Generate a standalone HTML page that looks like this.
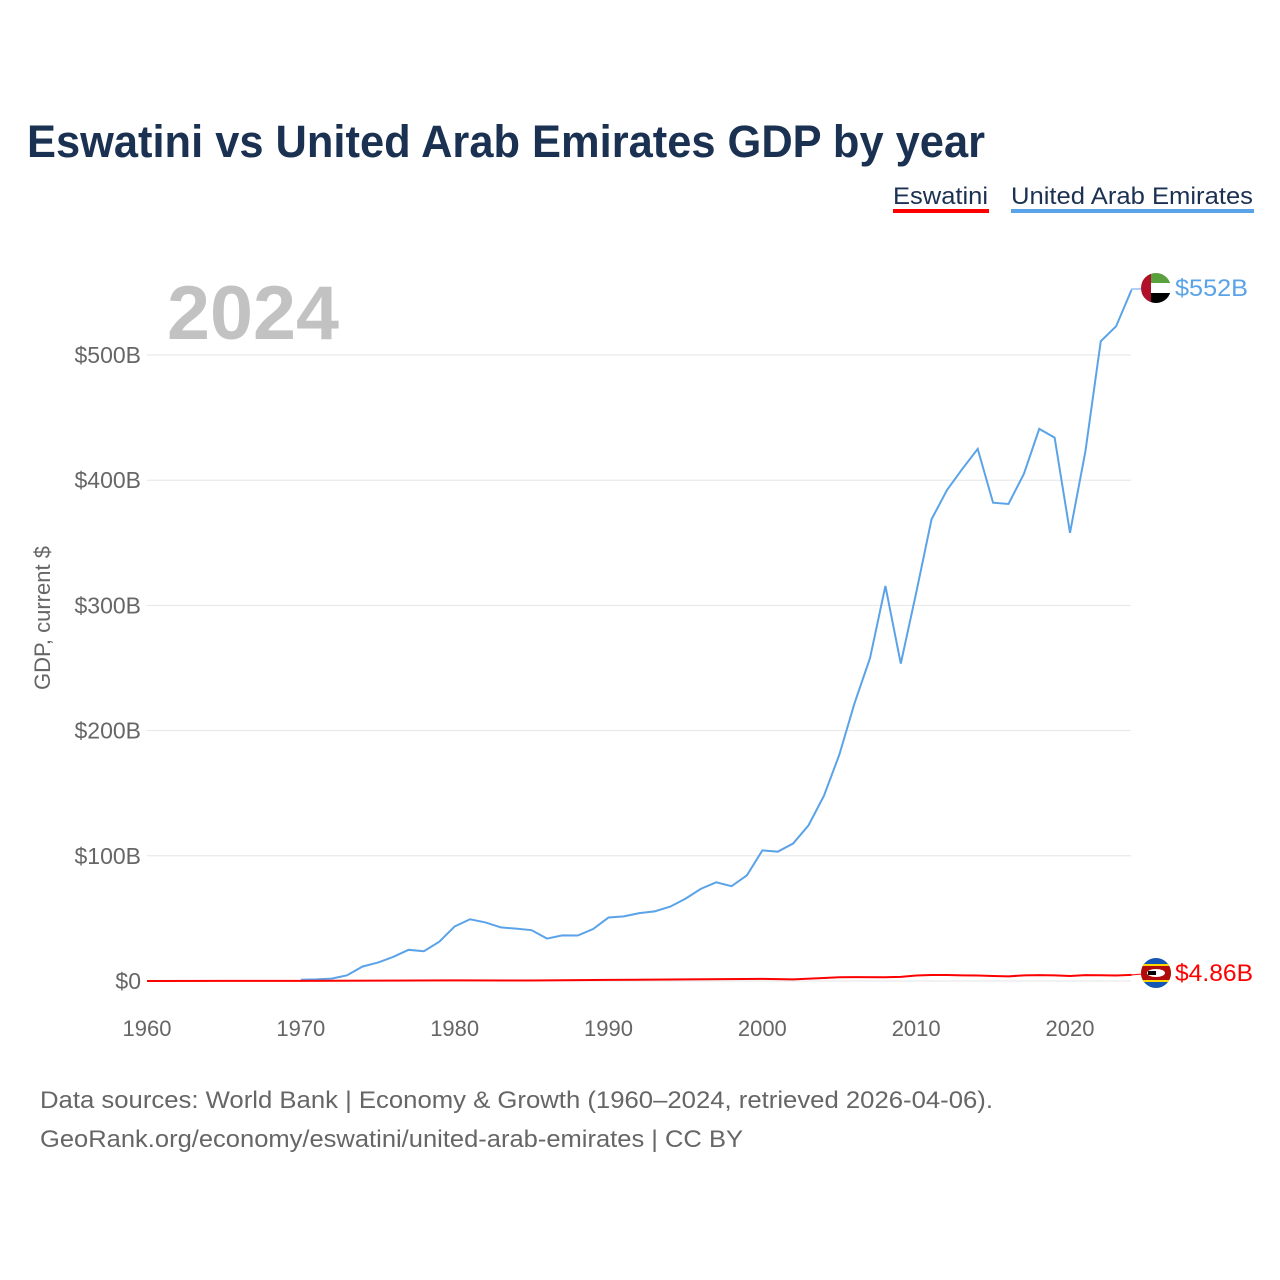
<!DOCTYPE html>
<html><head><meta charset="utf-8"><style>
body{margin:0;background:#fff;font-family:"Liberation Sans",sans-serif}
#w{position:relative;width:1280px;height:1280px;overflow:hidden}
</style></head><body><div id="w">
<svg id="s" width="1280" height="1280" style="position:absolute;left:0;top:0">
<text x="27" y="157" font-size="45" font-weight="bold" fill="#1b3152" textLength="958" lengthAdjust="spacingAndGlyphs">Eswatini vs United Arab Emirates GDP by year</text>
<g><text x="893" y="204" font-size="24" fill="#1b3152" textLength="95" lengthAdjust="spacingAndGlyphs">Eswatini</text><rect x="893" y="209" width="96" height="4" fill="#ff0000"/></g>
<g><text x="1011" y="204" font-size="24" fill="#1b3152" textLength="242" lengthAdjust="spacingAndGlyphs">United Arab Emirates</text><rect x="1011" y="209" width="243" height="4" fill="#5ba3e8"/></g>
<text x="167" y="339" font-size="76" font-weight="bold" fill="#c2c2c2" textLength="172" lengthAdjust="spacingAndGlyphs">2024</text>
<text transform="translate(50,618) rotate(-90)" text-anchor="middle" font-size="22" fill="#666">GDP, current $</text>
<g id="grid"></g><g id="lines"></g>
<line x1="1131" y1="289" x2="1142" y2="289" stroke="#5ba3e8" stroke-width="1"/>
<line x1="1131" y1="975" x2="1142" y2="974" stroke="#ff0000" stroke-width="1"/>
<text x="40" y="1108" font-size="24" fill="#666" textLength="953" lengthAdjust="spacingAndGlyphs">Data sources: World Bank | Economy &amp; Growth (1960–2024, retrieved 2026-04-06).</text>
<text x="40" y="1147" font-size="24" fill="#666" textLength="703" lengthAdjust="spacingAndGlyphs">GeoRank.org/economy/eswatini/united-arab-emirates | CC BY</text>
<g><clipPath id="c1"><circle cx="1156" cy="288" r="15"/></clipPath><g clip-path="url(#c1)"><rect x="1141" y="273" width="30" height="10" fill="#5aa03c"/><rect x="1141" y="283" width="30" height="10" fill="#fff"/><rect x="1141" y="293" width="30" height="10" fill="#000"/><rect x="1141" y="273" width="10" height="30" fill="#b0102a"/></g></g>
<g><clipPath id="c2"><circle cx="1156" cy="973" r="15"/></clipPath><g clip-path="url(#c2)"><rect x="1141" y="958" width="30" height="30" fill="#1456b4"/><rect x="1141" y="964" width="30" height="18" fill="#ffd700"/><rect x="1141" y="966" width="30" height="14" fill="#b10c0c"/><ellipse cx="1156" cy="973" rx="9" ry="4" fill="#fff"/><rect x="1148" y="971" width="8" height="4" fill="#000"/></g></g>
<text x="1175" y="296" font-size="24" fill="#5ba3e8" textLength="73" lengthAdjust="spacingAndGlyphs">$552B</text>
<text x="1175" y="981" font-size="24" fill="#ff0000" textLength="78" lengthAdjust="spacingAndGlyphs">$4.86B</text>
</svg>
<script>
const yTicks=[0,100,200,300,400,500];
const yTickLabels=["$0","$100B","$200B","$300B","$400B","$500B"];
const xTicks=[1960,1970,1980,1990,2000,2010,2020];
const uaeYears=[1970,1971,1972,1973,1974,1975,1976,1977,1978,1979,1980,1981,1982,1983,1984,1985,1986,1987,1988,1989,1990,1991,1992,1993,1994,1995,1996,1997,1998,1999,2000,2001,2002,2003,2004,2005,2006,2007,2008,2009,2010,2011,2012,2013,2014,2015,2016,2017,2018,2019,2020,2021,2022,2023,2024];
const uaeGDP=[1.0,1.3,1.9,4.5,11.5,14.7,19.2,24.9,23.8,31.4,43.6,49.3,46.8,42.8,41.8,40.6,33.9,36.4,36.3,41.5,50.7,51.6,54.2,55.6,59.3,65.7,73.6,78.8,75.7,84.4,104.3,103.3,109.8,124.3,147.8,180.6,222.1,257.9,315.5,253.5,310,368.8,392.0,409.0,425.0,382,381,405,441,434,358,423,511,523,552];
const swzYears=[1960,1965,1970,1975,1980,1985,1990,1995,2000,2002,2004,2005,2006,2008,2009,2010,2011,2012,2013,2014,2015,2016,2017,2018,2019,2020,2021,2022,2023,2024];
const swzGDP=[0.03,0.05,0.1,0.3,0.5,0.4,0.9,1.3,1.7,1.3,2.4,3.0,3.1,3.0,3.3,4.4,4.8,4.8,4.5,4.4,4.0,3.7,4.5,4.7,4.5,4.0,4.7,4.6,4.4,4.86];
const X=y=>147+(y-1960)*(923/60), Y=v=>981-v*1.252;
const NS="http://www.w3.org/2000/svg";
const g=document.getElementById('grid'), L=document.getElementById('lines');
yTicks.forEach((t,i)=>{
 const l=document.createElementNS(NS,'line');
 l.setAttribute('x1',147);l.setAttribute('x2',1131);l.setAttribute('y1',Y(t));l.setAttribute('y2',Y(t));
 l.setAttribute('stroke','#e6e6e6');l.setAttribute('stroke-width',1);
 
 
 g.appendChild(l);
 const tx=document.createElementNS(NS,'text');
 tx.setAttribute('x',141);tx.setAttribute('y',Y(t)+8);tx.setAttribute('text-anchor','end');tx.setAttribute('font-size','23');tx.setAttribute('fill','#666');
 tx.textContent=yTickLabels[i];
 
 
 g.appendChild(tx);
});
xTicks.forEach(t=>{
 const tx=document.createElementNS(NS,'text');
 tx.setAttribute('x',X(t));tx.setAttribute('y',1036);tx.setAttribute('text-anchor','middle');tx.setAttribute('font-size','22');tx.setAttribute('fill','#666');
 tx.textContent=t;
 
 
 g.appendChild(tx);
});
function line(ys,vs,c,name){
 const p=document.createElementNS(NS,'polyline');
 p.setAttribute('points',ys.map((y,i)=>X(y)+','+Y(vs[i])).join(' '));
 p.setAttribute('fill','none');p.setAttribute('stroke',c);p.setAttribute('stroke-width',2);
 
 
 L.appendChild(p);
}
line(uaeYears,uaeGDP,'#5ba3e8','uae-line');
line(swzYears,swzGDP,'#ff0000','eswatini-line');
</script></div></body></html>
